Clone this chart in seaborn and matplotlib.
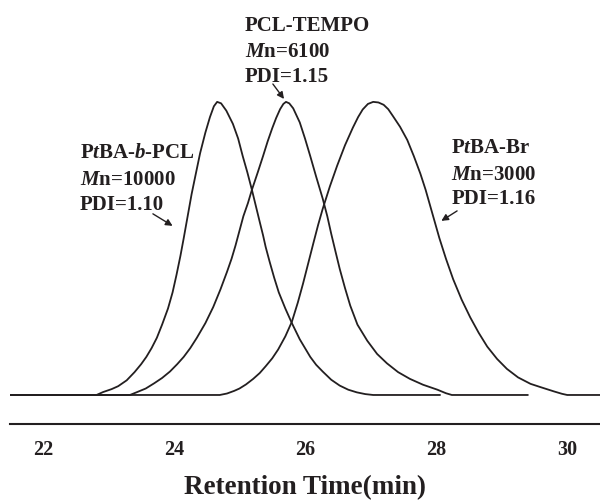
import matplotlib
matplotlib.use("Agg")
import matplotlib.pyplot as plt
import seaborn as sns
import pandas as pd


# GPC traces (time in min, normalised signal)

blockx = [21.50, 22.82, 22.92, 23.05, 23.15, 23.28, 23.40, 23.50, 23.58, 23.66,
          23.74, 23.82, 23.91, 23.98, 24.04, 24.10, 24.15, 24.21, 24.27, 24.33,
          24.40, 24.48, 24.55, 24.61, 24.66, 24.72, 24.80, 24.90, 24.98, 25.05,
          25.12, 25.19, 25.25, 25.31, 25.36, 25.40, 25.46, 25.53, 25.60, 25.70,
          25.80, 25.92, 26.00, 26.08, 26.17, 26.27, 26.40, 26.53, 26.66, 26.79,
          26.92, 27.04, 28.06]
blocky = [0.0, 0.0, 0.01, 0.02, 0.03, 0.05, 0.078, 0.105, 0.13, 0.16,
          0.195, 0.24, 0.295, 0.35, 0.41, 0.475, 0.535, 0.61, 0.685, 0.75,
          0.825, 0.895, 0.948, 0.985, 1.0, 0.995, 0.97, 0.925, 0.875, 0.815,
          0.76, 0.70, 0.645, 0.59, 0.545, 0.505, 0.455, 0.40, 0.35, 0.295,
          0.245, 0.19, 0.16, 0.13, 0.103, 0.08, 0.052, 0.032, 0.018, 0.009,
          0.003, 0.0, 0.0]

tempox = [21.50, 23.33, 23.44, 23.57, 23.70, 23.82, 23.94, 24.05, 24.15, 24.25,
          24.35, 24.48, 24.60, 24.71, 24.81, 24.88, 24.94, 25.00, 25.06, 25.13,
          25.19, 25.28, 25.36, 25.43, 25.50, 25.56, 25.62, 25.67, 25.71, 25.76,
          25.82, 25.92, 26.00, 26.08, 26.17, 26.27, 26.34, 26.40, 26.47, 26.53,
          26.61, 26.69, 26.80, 26.95, 27.10, 27.25, 27.42, 27.60, 27.80, 28.02,
          28.15, 28.24, 29.40]
tempoy = [0.0, 0.0, 0.01, 0.022, 0.04, 0.058, 0.08, 0.105, 0.13, 0.16,
          0.195, 0.245, 0.30, 0.36, 0.42, 0.465, 0.51, 0.56, 0.61, 0.655,
          0.70, 0.76, 0.815, 0.865, 0.91, 0.945, 0.975, 0.993, 1.0, 0.995,
          0.978, 0.93, 0.875, 0.815, 0.745, 0.67, 0.61, 0.55, 0.485, 0.43,
          0.365, 0.305, 0.24, 0.185, 0.14, 0.108, 0.078, 0.055, 0.035, 0.018,
          0.006, 0.0, 0.0]

brx = [21.50, 24.70, 24.81, 24.92, 25.00, 25.10, 25.21, 25.31, 25.40, 25.50,
       25.59, 25.70, 25.80, 25.89, 25.97, 26.05, 26.13, 26.20, 26.27, 26.38,
       26.49, 26.61, 26.73, 26.81, 26.88, 26.96, 27.04, 27.12, 27.20, 27.27,
       27.34, 27.45, 27.56, 27.66, 27.76, 27.84, 27.91, 27.98, 28.05, 28.15,
       28.26, 28.39, 28.52, 28.65, 28.78, 28.93, 29.08, 29.25, 29.44, 29.59,
       29.80, 29.92, 30.00, 30.50]
bry = [0.0, 0.0, 0.005, 0.014, 0.022, 0.036, 0.055, 0.075, 0.098, 0.125,
       0.155, 0.20, 0.25, 0.315, 0.38, 0.45, 0.52, 0.58, 0.635, 0.712,
       0.782, 0.852, 0.912, 0.948, 0.974, 0.993, 1.0, 0.998, 0.99, 0.975,
       0.952, 0.915, 0.87, 0.815, 0.755, 0.70, 0.645, 0.59, 0.535, 0.465,
       0.395, 0.325, 0.265, 0.212, 0.165, 0.123, 0.089, 0.06, 0.038, 0.027,
       0.012, 0.004, 0.0, 0.0]

major_ticks = [22, 24, 26, 28, 30]
minor_ticks = [23, 25, 27, 29]

ink = "#231f20"

sns.set_style("white")
plt.rcParams["font.family"] = ["Liberation Serif", "DejaVu Serif"]
plt.rcParams["font.weight"] = "bold"
plt.rcParams["mathtext.fontset"] = "custom"
plt.rcParams["mathtext.it"] = "Liberation Serif:italic:bold"
plt.rcParams["mathtext.rm"] = "Liberation Serif:bold"
plt.rcParams["mathtext.bf"] = "Liberation Serif:bold"

fig = plt.figure(figsize=(6.0, 5.02), dpi=100)
ax = fig.add_axes([10 / 600, 77 / 502, 590 / 600, 425 / 502])

for xs, ys in [(blockx, blocky), (tempox, tempoy), (brx, bry)]:
    df = pd.DataFrame({"time": xs, "signal": ys})
    sns.lineplot(data=df, x="time", y="signal", ax=ax, color=ink,
                 linewidth=1.3, estimator=None)

ax.set_xlim(21.5, 30.5)
ax.set_ylim(-0.099, 1.351)
ax.set_xticks(major_ticks)
ax.set_xticks(minor_ticks, minor=True)
ax.set_xticklabels([str(t) for t in major_ticks])
ax.set_yticks([])
ax.set_ylabel("")
ax.set_xlabel("Retention Time(min)", fontsize=19.5, fontweight="bold",
              color=ink, labelpad=11)

for side in ["left", "top", "right"]:
    ax.spines[side].set_visible(False)
ax.spines["bottom"].set_linewidth(1.5)
ax.spines["bottom"].set_color(ink)
ax.tick_params(axis="x", which="major", direction="out", length=6,
               width=1.5, color=ink, labelsize=14.5, labelcolor=ink, pad=5)
ax.tick_params(axis="x", which="minor", direction="out", length=3.6,
               width=1.2, color=ink)
ax.patch.set_alpha(0)

# labels for the peaks
fs = 15
txt = dict(fontsize=fs, fontweight="bold", color=ink, va="baseline", ha="left")

ax.text(25.08, 1.246, "PCL-TEMPO", **txt)
ax.text(25.08, 1.157, "$M$n=6100", **txt)
ax.text(25.08, 1.072, "PDI=1.15", **txt)

ax.text(22.565, 0.812, "P$t$BA-$b$-PCL", **txt)
ax.text(22.565, 0.720, "$M$n=10000", **txt)
ax.text(22.565, 0.635, "PDI=1.10", **txt)

ax.text(28.23, 0.829, "P$t$BA-Br", **txt)
ax.text(28.23, 0.737, "$M$n=3000", **txt)
ax.text(28.23, 0.655, "PDI=1.16", **txt)

arrow = dict(arrowstyle="-|>", color=ink, lw=1.0, mutation_scale=10,
             shrinkA=0, shrinkB=0)
ax.annotate("", xy=(25.68, 1.010), xytext=(25.51, 1.061), arrowprops=arrow)
ax.annotate("", xy=(23.98, 0.577), xytext=(23.68, 0.618), arrowprops=arrow)
ax.annotate("", xy=(28.08, 0.594), xytext=(28.32, 0.628), arrowprops=arrow)

fig.savefig("out.png", dpi=100)
